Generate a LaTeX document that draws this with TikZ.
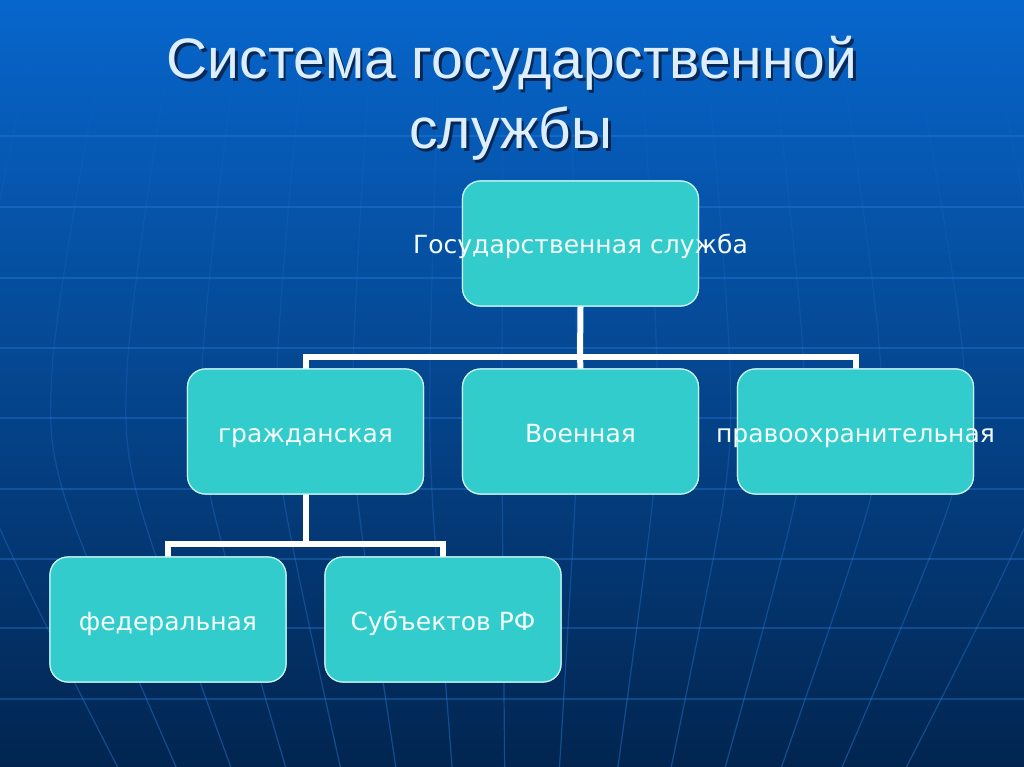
\documentclass[tikz,border=0pt]{standalone}
\usepackage{fontspec}
\setmainfont{DejaVu Sans}
\newfontfamily\titlefont{Liberation Sans}
\usetikzlibrary{positioning,calc,fadings}
\definecolor{bgtop}{HTML}{0766CC}
\definecolor{bgmid}{HTML}{0A4C9C}
\definecolor{bgbot}{HTML}{022550}
\definecolor{gridcol}{HTML}{3388EE}
\definecolor{boxfill}{HTML}{33CCCC}
\definecolor{boxline}{HTML}{C8F2F2}
\definecolor{titlecol}{HTML}{DCEEFF}
\definecolor{shadowcol}{HTML}{061A3A}
\definecolor{labelcol}{HTML}{F4FCFC}
\tikzset{
  gridline/.style={draw=gridcol, line width=1.1pt, opacity=0.3},
  meridian/.style={draw=gridcol, line width=1.2pt, opacity=0.4, path fading=north},
  box/.style={draw=boxline, line width=1.2pt, fill=boxfill, rounded corners=18pt,
    minimum width=236pt, minimum height=125pt, inner sep=0pt},
  lbl/.style={anchor=base, text=labelcol, font=\fontsize{25}{29}\selectfont, inner sep=0pt},
  conn/.style={draw=white, line width=6pt, line join=miter, line cap=rect},
  ttl/.style={anchor=base, font=\titlefont\fontsize{57}{70}\selectfont, inner sep=0pt},
}
\begin{document}
\begin{tikzpicture}[x=1pt,y=-1pt]
\useasboundingbox (0,0) rectangle (1024,767);
% background
\shade[top color=bgtop, middle color=bgmid, bottom color=bgbot] (0,0) rectangle (1024,767);
\begin{scope}
\clip (0,0) rectangle (1024,767);
\foreach \yy in {136,207,278,348,418,489,559,628,699}
  \draw[gridline] (0,\yy) -- (1024,\yy);
\foreach \d in {-540,-460,-385,-310,-235,-159,-82,-10,65,145,218,292,369,452,540}
  \draw[meridian] plot[smooth] coordinates {({512+\d*0.86},0) ({512+\d*0.93},150) ({512+\d},370) ({512+\d*0.97},500) ({512+\d*0.73},767)};
\end{scope}
% title
\node[ttl, text=shadowcol, opacity=0.8] (t1s) at (514.5,81.5) {Система государственной};
\node[ttl, text=titlecol] (t1) at (512,79) {Система государственной};
\node[ttl, text=shadowcol, opacity=0.8] (t2s) at (513.5,151.5) {службы};
\node[ttl, text=titlecol] (t2) at (511,149) {службы};
% junctions
\coordinate (j1) at (580,357);
\coordinate (j2) at (305.5,544);
% box positions
\node[box] (gs) at (580.5,243.5) {};
\node[box] (gr) at (305.5,431.5) {};
\node[box] (vo) at (580.5,431.5) {};
\node[box] (pr) at (855.5,431.5) {};
\node[box] (fe) at (168,619.5) {};
\node[box] (su) at (443,619.5) {};
% connectors
\draw[conn] (gs.south) -- (j1);
\draw[conn] (j1) -| (gr.north);
\draw[conn] (j1) -| (pr.north);
\draw[conn] (j1) -- (vo.north);
\draw[conn] (gr.south) -- (j2);
\draw[conn] (j2) -| (fe.north);
\draw[conn] (j2) -| (su.north);
% redraw boxes on top of connector ends
\node[box] (gs2) at (gs.center) {};
\node[box] (gr2) at (gr.center) {};
\node[box] (vo2) at (vo.center) {};
\node[box] (pr2) at (pr.center) {};
\node[box] (fe2) at (fe.center) {};
\node[box] (su2) at (su.center) {};
% labels
\node[lbl] (lgs) at ([yshift=-10pt]gs.center) {Государственная служба};
\node[lbl] (lgr) at ([yshift=-10.5pt]gr.center) {гражданская};
\node[lbl] (lvo) at ([yshift=-10.5pt]vo.center) {Военная};
\node[lbl] (lpr) at ([yshift=-10.5pt]pr.center) {правоохранительная};
\node[lbl] (lfe) at ([yshift=-10.5pt]fe.center) {федеральная};
\node[lbl] (lsu) at ([yshift=-10.5pt]su.center) {Субъектов РФ};
\end{tikzpicture}
\end{document}
